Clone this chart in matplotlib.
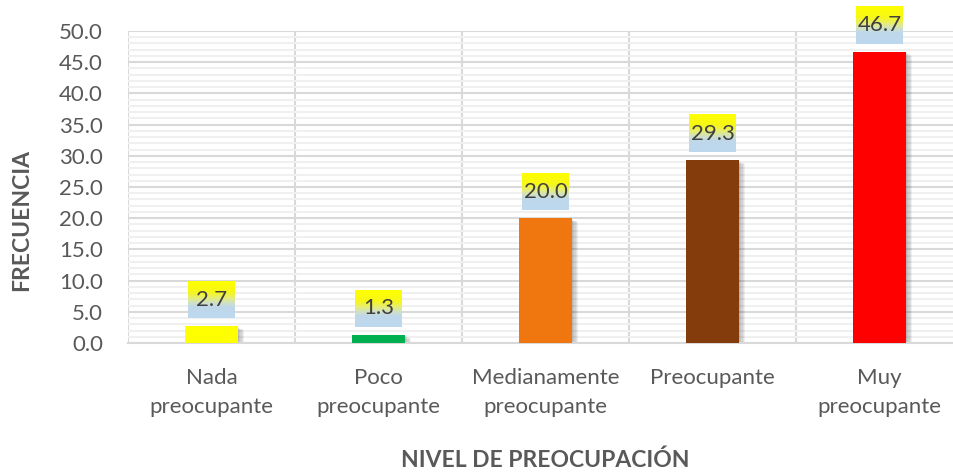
import numpy as np
import matplotlib.pyplot as plt
from matplotlib.colors import LinearSegmentedColormap

categorias = ['Nada\npreocupante', 'Poco\npreocupante', 'Medianamente\npreocupante',
              'Preocupante', 'Muy\npreocupante']
valores = [2.7, 1.3, 20.0, 29.3, 46.7]
colores = ['#FFFF00', '#00B050', '#F0760F', '#843C0C', '#FF0000']

plt.rcParams['font.family'] = ['Lato', 'DejaVu Sans']

fig = plt.figure(figsize=(9.54, 4.73), dpi=100)
ax = fig.add_axes([128 / 954, 1 - 343 / 473, 835 / 954, 312 / 473])

x = np.arange(len(valores))
ancho = 53 / 167
px = 50 / 312  # unidades de datos por pixel

# sombras de las barras
for k in range(1, 6):
    ax.bar(x + k * 1.2 / 167, np.array(valores), width=ancho,
           bottom=-k * 0.8 * px, color='#000000', alpha=0.06, zorder=2)
ax.bar(x, valores, width=ancho, color=colores, zorder=3)

# etiquetas con degradado amarillo -> celeste
cmap = LinearSegmentedColormap.from_list(
    'etiq', [(0, '#FFFF00'), (0.3, '#F7F718'), (0.45, '#E8EE70'),
             (0.58, '#D2E2C0'), (0.7, '#BFD8EA'), (1, '#BDD7EE')])
grad = np.linspace(0, 1, 200).reshape(-1, 1)
w_box = 47 / 167
h_box = 37 * px
for xi, v in zip(x, valores):
    y0 = v + 8 * px
    im = ax.imshow(grad, cmap=cmap, aspect='auto', origin='upper',
                   interpolation='bilinear',
                   extent=(xi - w_box / 2, xi + w_box / 2, y0, y0 + h_box),
                   zorder=4)
    im.set_clip_on(False)
    ax.text(xi, y0 + h_box / 2, f'{v:.1f}', ha='center', va='center',
            fontsize=16, color='#404040', zorder=5, clip_on=False)

ax.set_xlim(-0.5, len(valores) - 0.5)
ax.set_ylim(0, 50)
ax.set_yticks(np.arange(0, 50.1, 5))
ax.set_yticklabels([f'{t:.1f}' for t in np.arange(0, 50.1, 5)])
ax.set_yticks(np.arange(0, 50.1, 1), minor=True)
ax.set_xticks(x)
ax.set_xticklabels(categorias, linespacing=1.55)
ax.set_xticks(np.arange(-0.5, len(valores)), minor=True)

ax.grid(axis='y', which='major', color='#D9D9D9', linewidth=1.5, zorder=0)
ax.grid(axis='y', which='minor', color='#F0F0F0', linewidth=1.5, zorder=0)
ax.grid(axis='x', which='minor', color='#D9D9D9', linewidth=1.5, zorder=0)
ax.set_axisbelow(True)

for s in ['top', 'right', 'left']:
    ax.spines[s].set_visible(False)
ax.spines['bottom'].set_color('#D9D9D9')
ax.spines['bottom'].set_linewidth(1.5)

ax.tick_params(axis='both', which='both', length=0, labelsize=16,
               labelcolor='#595959')
ax.tick_params(axis='x', pad=18)
ax.tick_params(axis='y', pad=18)

fig.text(545 / 954, 1 - 460 / 473, 'NIVEL DE PREOCUPACIÓN', ha='center',
         va='center', fontsize=16.5, fontweight='bold', color='#595959')
fig.text(22 / 954, 1 - 220 / 473, 'FRECUENCIA', ha='center', va='center',
         rotation=90, fontsize=16.5, fontweight='bold', color='#595959')

fig.savefig('out.png', dpi=100)
